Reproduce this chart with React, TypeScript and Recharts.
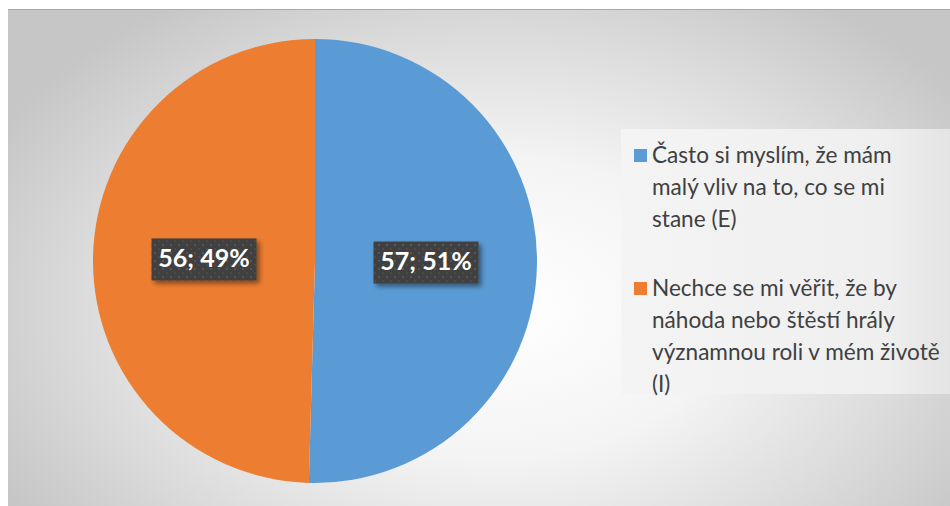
import { PieChart, Pie, Cell, Legend } from 'recharts';

const categories = [
  'Často si myslím, že mám malý vliv na to, co se mi stane (E)',
  'Nechce se mi věřit, že by náhoda nebo štěstí hrály významnou roli v mém životě (I)',
];
const legendLines = [
  ['Často si myslím, že mám', 'malý vliv na to, co se mi', 'stane (E)'],
  ['Nechce se mi věřit, že by', 'náhoda nebo štěstí hrály', 'významnou roli v mém životě', '(I)'],
];
const counts = [57, 56];
const percents = [51, 49];
const colors = ['#5b9bd5', '#ed7d31'];

const data = categories.map((name, i) => ({ name, value: counts[i], pct: percents[i] }));

const FONT = 'Lato, "Open Sans", sans-serif';
const RAD = Math.PI / 180;

function renderLabel(props: any) {
  const { cx, cy, midAngle, outerRadius, index } = props;
  const r = outerRadius * 0.5;
  const x = cx + r * Math.cos(-midAngle * RAD);
  const y = cy + r * Math.sin(-midAngle * RAD);
  const w = 105;
  const h = 42;
  return (
    <g>
      <rect x={x - w / 2} y={y - h / 2} width={w} height={h} fill="url(#dots)" filter="url(#shadow)" />
      <text
        x={x}
        y={y + 1}
        textAnchor="middle"
        dominantBaseline="middle"
        fill="#ffffff"
        fontFamily={FONT}
        fontWeight={700}
        fontSize={25}
      >
        {`${counts[index]}; ${percents[index]}%`}
      </text>
    </g>
  );
}

function renderLegend() {
  return (
    <div
      style={{
        width: 329,
        height: 265,
        background: 'linear-gradient(to right, #f4f4f4, #efefef 80%, #e4e4e4)',
        fontFamily: FONT,
        fontSize: 22.6,
        color: '#404040',
        boxSizing: 'border-box',
        paddingTop: 10,
      }}
    >
      {legendLines.map((lines, i) => (
        <div key={i} style={{ position: 'relative', paddingLeft: 31, marginBottom: i === 0 ? 37 : 0, lineHeight: '32px' }}>
          <span
            style={{
              position: 'absolute',
              left: 13,
              top: 10,
              width: 13,
              height: 13,
              background: colors[i],
            }}
          />
          {lines.map((l, j) => (
            <div key={j} style={{ whiteSpace: 'nowrap' }}>{l}</div>
          ))}
        </div>
      ))}
    </div>
  );
}

export default function App() {
  return (
    <div style={{ position: 'absolute', left: 0, top: 0, width: 950, height: 506, background: '#fff' }}>
      <div
        style={{
          position: 'absolute',
          left: 8,
          top: 9,
          width: 942,
          height: 497,
          borderTop: '1px solid #a8a8a8',
          background: 'radial-gradient(ellipse 60% 75% at 52% 60%, #ffffff 0%, #f4f4f4 40%, #dadada 75%, #c6c6c6 100%)',
        }}
      >
        <PieChart width={942} height={497} margin={{ top: 0, right: 0, bottom: 0, left: 0 }}>
          <defs>
            <pattern id="dots" width="8" height="8" patternUnits="userSpaceOnUse">
              <rect width="8" height="8" fill="#404040" />
              <rect x="2" y="2" width="2" height="2" fill="#555555" />
              <rect x="6" y="6" width="2" height="2" fill="#4c4c4c" />
            </pattern>
            <filter id="shadow" x="-20%" y="-20%" width="150%" height="160%">
              <feDropShadow dx="3" dy="3" stdDeviation="2.5" floodColor="#000" floodOpacity="0.45" />
            </filter>
          </defs>
          <Pie
            data={data}
            dataKey="value"
            nameKey="name"
            cx={307}
            cy={251}
            outerRadius={222}
            startAngle={90}
            endAngle={-270}
            stroke="none"
            label={renderLabel}
            labelLine={false}
            isAnimationActive={false}
          >
            {data.map((d, i) => (
              <Cell key={d.name} fill={colors[i]} />
            ))}
          </Pie>
          <Legend
            content={renderLegend}
            wrapperStyle={{ position: 'absolute', left: 613, top: 119, width: 329, height: 265 }}
          />
        </PieChart>
      </div>
    </div>
  );
}
